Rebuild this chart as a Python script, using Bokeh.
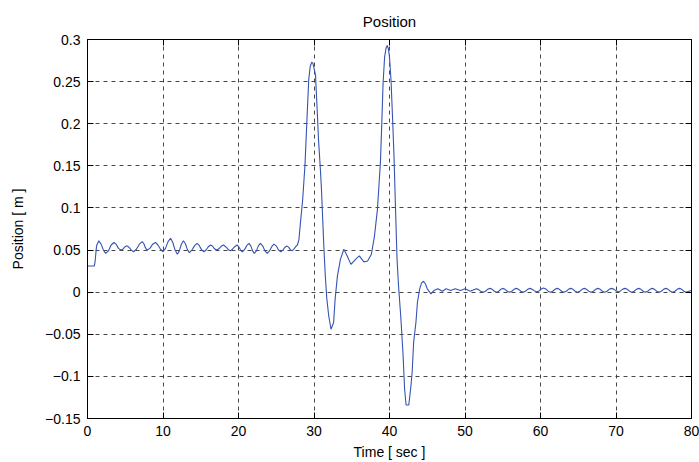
from bokeh.plotting import figure
from bokeh.models import LinearAxis, FixedTicker, Range1d
from bokeh.embed import file_html
from bokeh.resources import INLINE

# ---------------- data ----------------
# 0 - 28 s : small oscillation around 0.05 m
time_drift = [
    0.0, 0.6, 0.9, 1.0, 1.2, 1.5, 1.8, 2.1, 2.4, 2.77,
    3.13, 3.5, 3.8, 4.1, 4.4, 4.68, 4.97, 5.25, 5.53, 5.82,
    6.1, 6.48, 6.87, 7.25, 7.47, 7.68, 7.9, 8.27, 8.63, 9.0,
    9.33, 9.67, 10.0, 10.33, 10.67, 11.0, 11.3, 11.6, 11.9, 12.17,
    12.43, 12.7, 12.97, 13.23, 13.5, 13.83, 14.17, 14.5, 14.8, 15.1,
    15.4, 15.7, 16.0, 16.3, 16.57, 16.83, 17.1, 17.4, 17.7, 18.0,
    18.3, 18.6, 18.9, 19.2, 19.5, 19.8, 20.03, 20.27, 20.5, 20.8,
    21.1, 21.4, 21.63, 21.87, 22.1, 22.37, 22.63, 22.9, 23.2, 23.5,
    23.8, 24.1, 24.4, 24.7, 25.0, 25.3, 25.6, 25.87, 26.13, 26.4,
    26.63, 26.87, 27.1, 27.33, 27.57, 27.8,
]
pos_drift = [
    0.031, 0.031, 0.031, 0.036, 0.055, 0.061, 0.057, 0.050, 0.046, 0.049,
    0.056, 0.059, 0.057, 0.052, 0.050, 0.051, 0.054, 0.055, 0.053, 0.050,
    0.048, 0.051, 0.057, 0.060, 0.0575, 0.0525, 0.050, 0.052, 0.057, 0.059,
    0.056, 0.051, 0.048, 0.052, 0.060, 0.064, 0.059, 0.050, 0.045, 0.049,
    0.057, 0.061, 0.0575, 0.0505, 0.047, 0.050, 0.055, 0.058, 0.0555, 0.0505,
    0.048, 0.050, 0.054, 0.056, 0.0545, 0.0515, 0.050, 0.0515, 0.0545, 0.056,
    0.054, 0.051, 0.049, 0.051, 0.054, 0.056, 0.054, 0.050, 0.048, 0.0505,
    0.0555, 0.058, 0.055, 0.049, 0.046, 0.049, 0.055, 0.058, 0.055, 0.049,
    0.046, 0.049, 0.054, 0.057, 0.055, 0.050, 0.048, 0.050, 0.053, 0.055,
    0.0535, 0.0505, 0.049, 0.051, 0.054, 0.056,
]
# 28 - 46 s : two large excursions
time_moves = [
    28.0, 28.2, 28.5, 28.8, 29.1, 29.3, 29.5, 29.7, 29.85, 30.0,
    30.2, 30.4, 30.6, 30.85, 31.0, 31.1, 31.3, 31.5, 31.7, 31.95,
    32.25, 32.6, 32.8, 33.1, 33.5, 33.95, 34.4, 34.9, 35.5, 36.0,
    36.6, 37.1, 37.6, 38.0, 38.4, 38.6, 38.8, 38.95, 39.15, 39.35,
    39.55, 39.7, 39.85, 40.0, 40.2, 40.4, 40.6, 40.8, 41.0, 41.2,
    41.5, 41.8, 42.0, 42.2, 42.55, 42.8, 43.0, 43.2, 43.5, 43.7,
    44.0, 44.25, 44.5, 44.75, 45.0, 45.5, 45.9, 46.4,
]
pos_moves = [
    0.062, 0.082, 0.110, 0.150, 0.212, 0.252, 0.268, 0.273, 0.272, 0.266,
    0.258, 0.220, 0.181, 0.145, 0.120, 0.098, 0.055, 0.019, -0.008, -0.028,
    -0.044, -0.036, -0.008, 0.019, 0.039, 0.051, 0.043, 0.033, 0.039, 0.043,
    0.036, 0.037, 0.045, 0.066, 0.098, 0.126, 0.155, 0.193, 0.248, 0.279,
    0.290, 0.293, 0.289, 0.279, 0.252, 0.208, 0.161, 0.098, 0.039, 0.007,
    -0.030, -0.075, -0.115, -0.134, -0.134, -0.115, -0.095, -0.059, -0.036, -0.012,
    0.004, 0.011, 0.013, 0.010, 0.004, -0.002, 0.002, 0.004,
]
# 46 - 80 s : small residual ripple around 0
time_tail = [
    47.0, 47.5, 48.1, 48.7, 49.4, 50.0, 50.7, 51.5, 51.8, 52.1,
    52.4, 52.7, 53.0, 53.3, 53.6, 53.9, 54.2, 54.47, 54.73, 55.0,
    55.3, 55.6, 55.9, 56.2, 56.5, 56.8, 57.1, 57.4, 57.7, 58.0,
    58.3, 58.6, 58.9, 59.2, 59.5, 59.8, 60.1, 60.4, 60.7, 61.0,
    61.3, 61.6, 61.9, 62.2, 62.5, 62.8, 63.1, 63.4, 63.7, 64.0,
    64.3, 64.6, 64.9, 65.2, 65.5, 65.8, 66.1, 66.4, 66.7, 67.0,
    67.3, 67.6, 67.9, 68.2, 68.5, 68.8, 69.1, 69.4, 69.7, 70.0,
    70.3, 70.6, 70.9, 71.2, 71.5, 71.8, 72.1, 72.4, 72.7, 73.0,
    73.3, 73.6, 73.9, 74.2, 74.5, 74.8, 75.1, 75.4, 75.7, 76.0,
    76.3, 76.6, 76.9, 77.2, 77.5, 77.8, 78.1, 78.4, 78.7, 79.0,
    79.3, 79.65, 80.0,
]
pos_tail = [
    0.001, 0.004, 0.002, 0.004, 0.002, 0.004, 0.001, 0.004, 0.003, 0.001,
    0.000, 0.0011, 0.0034, 0.0045, 0.0034, 0.0011, 0.000, 0.0011, 0.0034, 0.0045,
    0.0034, 0.0011, 0.000, 0.0011, 0.0034, 0.0045, 0.0034, 0.0011, 0.000, 0.0011,
    0.0034, 0.0045, 0.0034, 0.0015, 0.0005, 0.0015, 0.0038, 0.005, 0.0038, 0.0012,
    0.000, 0.0011, 0.0034, 0.0045, 0.0034, 0.0011, 0.000, 0.0011, 0.0034, 0.0045,
    0.0034, 0.0011, 0.000, 0.0011, 0.0034, 0.0045, 0.0034, 0.0011, 0.000, 0.0011,
    0.0034, 0.0045, 0.0034, 0.0011, 0.000, 0.0011, 0.0034, 0.0045, 0.0036, 0.0015,
    0.0005, 0.0015, 0.0036, 0.0045, 0.0034, 0.0011, 0.000, 0.0011, 0.0034, 0.0045,
    0.0034, 0.0011, 0.000, 0.0011, 0.0034, 0.0045, 0.0034, 0.0011, 0.000, 0.0011,
    0.0034, 0.0045, 0.0034, 0.0011, 0.000, 0.0011, 0.0034, 0.0045, 0.0034, 0.0011,
    0.000, 0.001, 0.002,
]

x_ticks = [0, 10, 20, 30, 40, 50, 60, 70, 80]
y_ticks = [-0.15, -0.1, -0.05, 0, 0.05, 0.1, 0.15, 0.2, 0.25, 0.3]
y_tick_labels = ["\u22120.15", "\u22120.1", "\u22120.05", "0", "0.05",
                 "0.1", "0.15", "0.2", "0.25", "0.3"]
title_text = "Position"
x_label = "Time [ sec ]"
y_label = "Position [ m ]"

time_s = time_drift + time_moves + time_tail
position_m = pos_drift + pos_moves + pos_tail

FONT = "Liberation Sans"
LINE_COLOR = "#3553b3"

p = figure(width=699, height=462, output_backend="svg", toolbar_location=None,
           x_range=Range1d(0, 80), y_range=Range1d(-0.15, 0.3),
           min_border_left=87, min_border_right=8, min_border_top=39,
           min_border_bottom=42, title=title_text)
p.background_fill_color = "white"
p.border_fill_color = "white"
p.outline_line_color = "black"
p.outline_line_width = 1

p.title.align = "center"
p.title.text_font = FONT
p.title.text_font_size = "15px"
p.title.text_font_style = "normal"
p.title.text_color = "black"
p.title.standoff = 19

for ax in (p.xaxis[0], p.yaxis[0]):
    ax.major_tick_in = 6
    ax.major_tick_out = 0
    ax.minor_tick_line_color = None
    ax.axis_line_color = "black"
    ax.major_tick_line_color = "black"
    ax.major_label_text_font = FONT
    ax.major_label_text_font_size = "14px"
    ax.major_label_text_color = "black"
    ax.axis_label_text_font = FONT
    ax.axis_label_text_font_size = "14px"
    ax.axis_label_text_font_style = "normal"
    ax.axis_label_text_color = "black"
    ax.major_label_standoff = 7

p.xaxis[0].ticker = FixedTicker(ticks=x_ticks)
p.yaxis[0].ticker = FixedTicker(ticks=y_ticks)
p.yaxis[0].major_label_overrides = dict(zip(y_ticks, y_tick_labels))
p.xaxis[0].axis_label = x_label
p.yaxis[0].axis_label = y_label
p.xaxis[0].axis_label_standoff = 5
p.yaxis[0].axis_label_standoff = 16

# inward tick marks on top and right, without labels
top_ax = LinearAxis(ticker=FixedTicker(ticks=x_ticks))
right_ax = LinearAxis(ticker=FixedTicker(ticks=y_ticks))
for ax, ticks in ((top_ax, x_ticks), (right_ax, y_ticks)):
    ax.major_tick_in = 6
    ax.major_tick_out = 0
    ax.minor_tick_line_color = None
    ax.axis_line_color = "black"
    ax.major_tick_line_color = "black"
    ax.major_label_overrides = {t: "" for t in ticks}
    ax.major_label_text_font_size = "0px"
    ax.major_label_standoff = 0
p.add_layout(top_ax, "above")
p.add_layout(right_ax, "right")

p.xgrid[0].ticker = FixedTicker(ticks=x_ticks)
p.ygrid[0].ticker = FixedTicker(ticks=y_ticks)
for g in (p.xgrid[0], p.ygrid[0]):
    g.grid_line_color = "#333333"
    g.grid_line_dash = "4 4"
    g.grid_line_width = 1
    g.grid_line_alpha = 0.9

p.line(time_s, position_m, line_color=LINE_COLOR, line_width=1.1)

open("out.html", "w").write(file_html(p, INLINE))
